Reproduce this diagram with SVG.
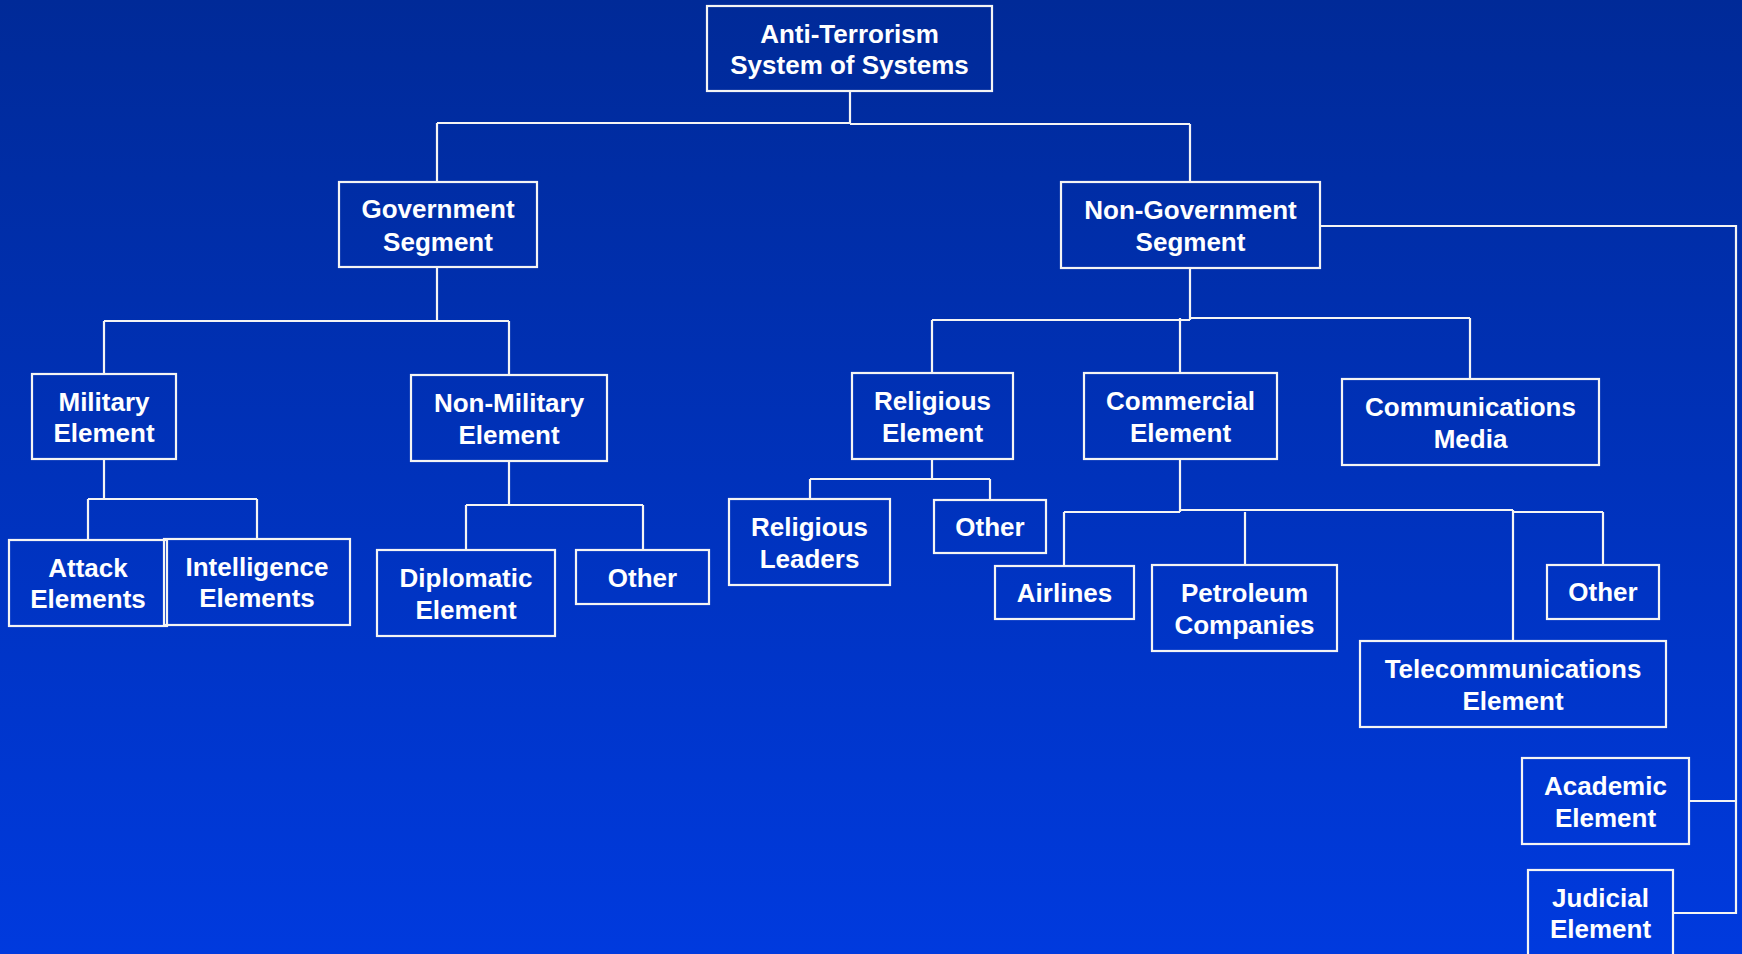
<svg xmlns="http://www.w3.org/2000/svg" width="1742" height="954" viewBox="0 0 1742 954">
<defs>
<linearGradient id="bg" x1="0" y1="0" x2="0" y2="1">
<stop offset="0" stop-color="#002A98"/>
<stop offset="1" stop-color="#003ADE"/>
</linearGradient>
<style>
.box{fill:none;stroke:#F4F4F4;stroke-width:2.2}
.t{font-family:"Liberation Sans",Arial,sans-serif;font-weight:bold;font-size:26px;fill:#FFFFFF;text-anchor:middle}
.c{fill:none;stroke:#F4F4F4;stroke-width:2.2}
</style>
</defs>
<rect x="0" y="0" width="1742" height="954" fill="url(#bg)"/>
<g id="connectors" class="c">
<path d="M850 91V123M437 123H850M850 124H1190M437 123V182M1190 124V182"/>
<path d="M437 267V321M104 321H509M104 321V374M509 321V375"/>
<path d="M104 459V499M88 499H257M88 499V540M257 499V539"/>
<path d="M509 461V505M466 505H643M466 505V550M643 505V550"/>
<path d="M1190 268V320M932 320H1190M932 320V373M1180 318V373M1190 318H1470M1470 318V379"/>
<path d="M932 459V479M810 479H990M810 479V499M990 479V500"/>
<path d="M1180 459V512M1064 512H1180M1180 510H1513M1513 512H1603M1064 512V566M1245 512V565M1513 510V641M1603 512V565"/>
<path d="M1320 226H1736V913H1673M1689 801H1736"/>
</g>
<g id="n-root"><rect class="box" x="707" y="6" width="285" height="85"/><text class="t" x="849.5" y="43">Anti-Terrorism</text><text class="t" x="849.5" y="74">System of Systems</text></g>
<g id="n-gov"><rect class="box" x="339" y="182" width="198" height="85"/><text class="t" x="438" y="218">Government</text><text class="t" x="438" y="251">Segment</text></g>
<g id="n-nongov"><rect class="box" x="1061" y="182" width="259" height="86"/><text class="t" x="1190.5" y="219">Non-Government</text><text class="t" x="1190.5" y="251">Segment</text></g>
<g id="n-military"><rect class="box" x="32" y="374" width="144" height="85"/><text class="t" x="104" y="411">Military</text><text class="t" x="104" y="442">Element</text></g>
<g id="n-nonmilitary"><rect class="box" x="411" y="375" width="196" height="86"/><text class="t" x="509" y="412">Non-Military</text><text class="t" x="509" y="444">Element</text></g>
<g id="n-attack"><rect class="box" x="9" y="540" width="158" height="86"/><text class="t" x="88" y="577">Attack</text><text class="t" x="88" y="608">Elements</text></g>
<g id="n-intel"><rect class="box" x="164" y="539" width="186" height="86"/><text class="t" x="257" y="576">Intelligence</text><text class="t" x="257" y="607">Elements</text></g>
<g id="n-diplomatic"><rect class="box" x="377" y="550" width="178" height="86"/><text class="t" x="466" y="587">Diplomatic</text><text class="t" x="466" y="619">Element</text></g>
<g id="n-other1"><rect class="box" x="576" y="550" width="133" height="54"/><text class="t" x="642.5" y="587">Other</text></g>
<g id="n-religious"><rect class="box" x="852" y="373" width="161" height="86"/><text class="t" x="932.5" y="410">Religious</text><text class="t" x="932.5" y="442">Element</text></g>
<g id="n-commercial"><rect class="box" x="1084" y="373" width="193" height="86"/><text class="t" x="1180.5" y="410">Commercial</text><text class="t" x="1180.5" y="442">Element</text></g>
<g id="n-commmedia"><rect class="box" x="1342" y="379" width="257" height="86"/><text class="t" x="1470.5" y="416">Communications</text><text class="t" x="1470.5" y="448">Media</text></g>
<g id="n-relleaders"><rect class="box" x="729" y="499" width="161" height="86"/><text class="t" x="809.5" y="536">Religious</text><text class="t" x="809.5" y="568">Leaders</text></g>
<g id="n-other2"><rect class="box" x="934" y="500" width="112" height="53"/><text class="t" x="990" y="536">Other</text></g>
<g id="n-airlines"><rect class="box" x="995" y="566" width="139" height="53"/><text class="t" x="1064.5" y="602">Airlines</text></g>
<g id="n-petroleum"><rect class="box" x="1152" y="565" width="185" height="86"/><text class="t" x="1244.5" y="602">Petroleum</text><text class="t" x="1244.5" y="634">Companies</text></g>
<g id="n-other3"><rect class="box" x="1547" y="565" width="112" height="54"/><text class="t" x="1603" y="601">Other</text></g>
<g id="n-telecom"><rect class="box" x="1360" y="641" width="306" height="86"/><text class="t" x="1513" y="678">Telecommunications</text><text class="t" x="1513" y="710">Element</text></g>
<g id="n-academic"><rect class="box" x="1522" y="758" width="167" height="86"/><text class="t" x="1605.5" y="795">Academic</text><text class="t" x="1605.5" y="827">Element</text></g>
<g id="n-judicial"><rect class="box" x="1528" y="870" width="145" height="92"/><text class="t" x="1600.5" y="907">Judicial</text><text class="t" x="1600.5" y="938">Element</text></g>
</svg>
